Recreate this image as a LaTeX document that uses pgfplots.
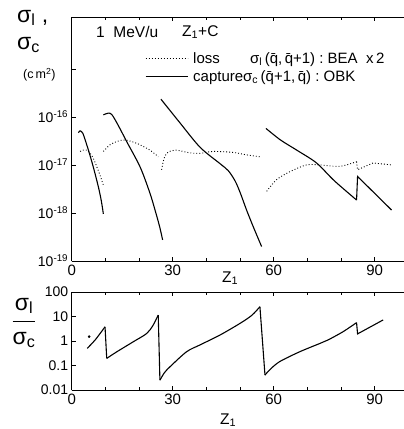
\documentclass[border=0pt]{standalone}
\usepackage{pgfplots}
\pgfplotsset{compat=1.18}
\usepackage{fontspec}
\setmainfont{Liberation Sans}

\newcommand{\fs}{\fontsize{14}{16}\selectfont}
\newcommand{\ft}{\fontsize{15.5}{18}\selectfont}
\newcommand{\qb}{\={q}}

\tikzset{
  capline/.style={black, line width=1.1pt},
  lossline/.style={black, line width=0.9pt, dash pattern=on 0.9pt off 2.1pt},
}
\pgfplotsset{
  panelaxis/.style={
    scale only axis, width=332pt,
    xmin=0, xmax=98.6, clip=false,
    axis x line*=box, axis y line*=left,
    axis line style={line width=0.9pt},
    tick align=inside, tick style={line width=0.7pt, black},
    major tick length=4pt, minor tick length=3pt,
    xtick={0,30,60,90}, xticklabels={0,30,60,90},
    minor xtick={10,20,40,50,70,80},
    yminorticks=false,
    yticklabel style={font=\fs},
    xticklabel style={font=\fontsize{15}{17}\selectfont},
  },
}

\begin{document}
\begin{tikzpicture}
\path[use as bounding box] (0pt,0pt) rectangle (404pt,429pt);

% upper panel: cross sections
\begin{axis}[panelaxis, ymode=log, height=244pt,
    at={(71.7pt,168pt)}, anchor=south west,
    ymin=1e-19, ymax=1.2e-14,
    ytick={1e-19,1e-18,1e-17,1e-16,1e-15},
    yticklabels={10\textsuperscript{-19},10\textsuperscript{-18},10\textsuperscript{-17},10\textsuperscript{-16},{}},
    legend style={draw=none, fill=none, inner sep=0pt, outer sep=0pt,
      at={(0.221,0.856)}, anchor=north west,
      font=\fontsize{15}{17}\selectfont, row sep=6pt, column sep=5pt,
      nodes={inner sep=0pt, outer sep=0pt}, cells={anchor=west}},
    legend cell align=left,
    legend image code/.code={\draw[#1] (0pt,0pt) -- (42pt,0pt);},
  ]
  \addlegendimage{lossline}
  \addlegendentry{\makebox[57pt][l]{loss}σ\textsubscript{l}\,(\qb,\,\qb+1)\ :\ BEA\ \ x\,2}
  \addlegendimage{capline}
  \addlegendentry{captureσ\textsubscript{c}\,(\qb+1,\,\qb)\ :\ OBK}

  % capture (OBK)
  \addplot[capline, smooth, forget plot] coordinates {
    (2.0,4.68e-17) (2.5,5.13e-17) (3.3,4.57e-17) (4.0,3.31e-17) (5.0,2.00e-17)
    (6.4,9.12e-18) (7.9,3.55e-18) (8.8,1.78e-18) (9.4,9.55e-19)};
  \addplot[capline, smooth, forget plot] coordinates {
    (9.4,1.10e-16) (10.9,1.20e-16) (12.0,1.10e-16) (14.0,6.31e-17) (16.3,3.09e-17)
    (20.3,9.12e-18) (23.2,2.63e-18) (25.0,1.00e-18) (26.2,4.90e-19) (27.0,2.75e-19)};
  \addplot[capline, smooth, forget plot] coordinates {
    (26.5,2.34e-16) (32.1,7.59e-17) (38.1,2.34e-17) (44.0,1.07e-17) (46.5,7.59e-18)
    (48.5,4.68e-18) (50.0,2.69e-18) (52.0,1.12e-18) (54.0,5.01e-19) (56.4,2.00e-19)};
  \addplot[capline, smooth, forget plot] coordinates {
    (57.7,5.75e-17) (62.0,3.31e-17) (67.0,2.00e-17) (72.7,1.10e-17) (78.0,4.68e-18)
    (84.6,1.86e-18)};
  \addplot[capline, forget plot] coordinates {
    (84.6,1.86e-18) (84.9,5.75e-18) (95.0,1.15e-18)};

  % loss (BEA x 2)
  \addplot[lossline, smooth, forget plot] coordinates {
    (2.5,1.91e-17) (3.5,2.04e-17) (4.5,2.04e-17) (5.5,1.74e-17) (6.4,1.38e-17)
    (7.4,9.33e-18) (8.4,6.17e-18) (9.4,3.80e-18)};
  \addplot[lossline, smooth, forget plot] coordinates {
    (9.4,1.91e-17) (11.4,2.63e-17) (13.5,3.09e-17) (15.8,3.31e-17) (19.3,2.82e-17)
    (23.2,2.04e-17) (25.7,1.48e-17)};
  \addplot[lossline, smooth, forget plot] coordinates {
    (26.7,7.94e-18) (27.3,1.26e-17) (28.2,1.74e-17) (30.7,2.04e-17) (35.1,1.78e-17)
    (38.1,1.74e-17) (42.0,1.91e-17) (48.0,1.82e-17) (51.9,1.62e-17) (55.9,1.48e-17)};
  \addplot[lossline, smooth, forget plot] coordinates {
    (57.9,2.82e-18) (60.8,4.90e-18) (64.8,7.24e-18) (69.7,1.00e-17) (73.7,1.00e-17)
    (79.6,9.33e-18) (84.6,1.17e-17)};
  \addplot[lossline, forget plot] coordinates {
    (84.6,1.17e-17) (84.9,7.94e-18) (89.5,1.10e-17) (95.0,1.00e-17)};

  \node[font=\ft] at (rel axis cs:0.477,0) [yshift=-17pt] {Z\textsubscript{1}};
\end{axis}

% lower panel: ratio
\begin{axis}[panelaxis, ymode=log, height=98pt,
    at={(71.7pt,39pt)}, anchor=south west,
    ymin=0.01, ymax=100,
    ytick={0.01,0.1,1,10,100},
    yticklabels={0.01,0.1,1,10,100},
  ]
  \addplot[capline, smooth] coordinates {(4.6,0.50) (7.0,1.12) (9.9,3.80)};
  \addplot[capline] coordinates {(9.9,3.80) (10.4,0.195)};
  \addplot[capline, smooth] coordinates {
    (10.4,0.195) (13.4,0.363) (18.3,0.933) (22.3,2.04) (24.2,4.47) (25.7,11.5)};
  \addplot[capline] coordinates {(25.7,11.5) (26.2,0.0251)};
  \addplot[capline, smooth] coordinates {
    (26.2,0.0251) (27.5,0.050) (29.2,0.089) (34.1,0.363) (38.1,0.692) (44.0,1.74)
    (50.0,5.25) (53.5,11.2) (55.9,25.1)};
  \addplot[capline] coordinates {(55.9,25.1) (57.4,0.0407)};
  \addplot[capline, smooth] coordinates {
    (57.4,0.0407) (59.0,0.0708) (61.8,0.145) (67.7,0.363) (73.7,0.794) (76.1,1.10)
    (80.6,2.40) (84.6,5.62)};
  \addplot[capline] coordinates {(84.6,5.62) (84.9,1.95) (92.5,7.24)};
  \addplot[only marks, mark=*, mark size=1.1pt, black] coordinates {(5.2,1.51)};

  \node[font=\ft] at (rel axis cs:0.471,0) [yshift=-30pt] {Z\textsubscript{1}};
\end{axis}

% texts outside the panels
\node[anchor=west, font=\fontsize{23}{25}\selectfont, inner sep=0pt] at (17pt,411pt) {σ\textsubscript{l}\ ,};
\node[anchor=west, font=\fontsize{23}{25}\selectfont, inner sep=0pt] at (17pt,384pt) {σ\textsubscript{c}};
\node[anchor=west, font=\fontsize{12.5}{14}\selectfont, inner sep=0pt] at (23pt,354pt) {(c\,m\textsuperscript{2})};
\node[anchor=west, font=\ft, inner sep=0pt] at (96pt,397pt) {1\ \ MeV/u};
\node[anchor=west, font=\ft, inner sep=0pt] at (182pt,397pt) {Z\textsubscript{1}+C};
\node[font=\fontsize{23}{25}\selectfont, inner sep=0pt] at (24pt,106pt)
  {$\displaystyle\frac{\mbox{σ\textsubscript{l}}}{\mbox{σ\textsubscript{c}}}$};
\end{tikzpicture}
\end{document}
